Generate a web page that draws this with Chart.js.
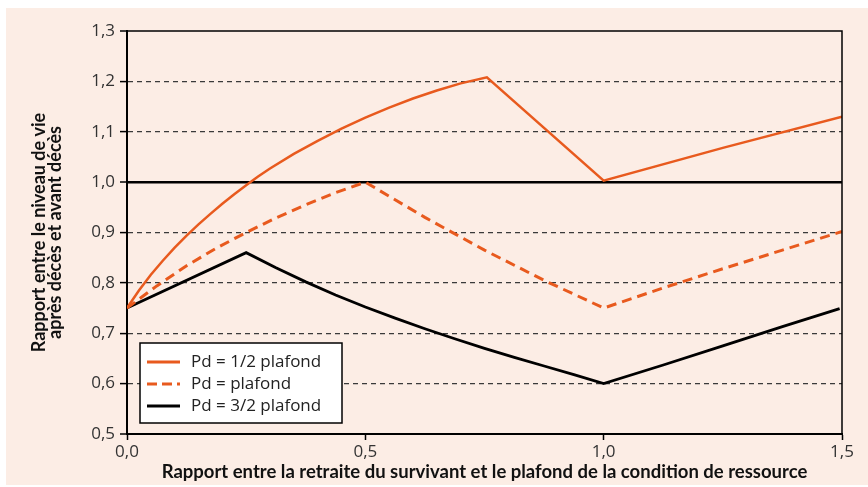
<!DOCTYPE html>
<html lang="fr">
<head>
<meta charset="utf-8">
<title>Niveau de vie après décès</title>
<script src="https://cdn.jsdelivr.net/npm/chart.js@4.4.1/dist/chart.umd.min.js"></script>
<style>
	html, body { margin: 0; padding: 0; background: #fff; }
	#wrap { position: relative; width: 868px; height: 487px; }
	#fond { position: absolute; left: 6px; top: 8px; right: 0; bottom: 2px; background: #fcede5; }
	canvas { position: absolute; left: 0; top: 0; }
</style>
</head>
<body>
<div id="wrap">
	<div id="fond"></div>
	<canvas id="ratioChart" width="868" height="487"></canvas>
</div>
<script>
// Rapport retraite du survivant / plafond (axe horizontal) et rapport de niveau de vie
const xDemi = [0, 0.025, 0.05, 0.075, 0.1, 0.125, 0.15, 0.175, 0.2, 0.225, 0.25, 0.275, 0.3, 0.35, 0.4, 0.45, 0.5, 0.55, 0.6, 0.65, 0.7, 0.755, 1.0, 1.25, 1.5];
const yDemi = [0.75, 0.785, 0.816, 0.844, 0.87, 0.894, 0.916, 0.937, 0.957, 0.976, 0.994, 1.011, 1.027, 1.056, 1.082, 1.106, 1.128, 1.148, 1.166, 1.182, 1.196, 1.208, 1.003, 1.068, 1.13];

const xPlafond = [0, 0.0625, 0.125, 0.1875, 0.25, 0.3125, 0.375, 0.4375, 0.5, 0.625, 0.75, 0.875, 1.0, 1.125, 1.25, 1.375, 1.5];
const yPlafond = [0.75, 0.794, 0.834, 0.869, 0.9, 0.929, 0.955, 0.979, 1.0, 0.93, 0.865, 0.805, 0.75, 0.79, 0.828, 0.865, 0.902];

const xTroisDemi = [0, 0.25, 0.3125, 0.375, 0.4375, 0.5, 0.5625, 0.625, 0.6875, 0.75, 0.8125, 0.875, 0.9375, 1.0, 1.125, 1.25, 1.375, 1.495];
const yTroisDemi = [0.75, 0.86, 0.83, 0.802, 0.776, 0.752, 0.73, 0.709, 0.689, 0.67, 0.652, 0.635, 0.618, 0.6, 0.637, 0.675, 0.713, 0.749];

const seriesLabels = ["Pd = 1/2 plafond", "Pd = plafond", "Pd = 3/2 plafond"];

const xTickValues = [0, 0.5, 1.0, 1.5];
const xTickLabels = ["0,0", "0,5", "1,0", "1,5"];
const yTickValues = [0.5, 0.6, 0.7, 0.8, 0.9, 1.0, 1.1, 1.2, 1.3];
const yTickLabels = ["0,5", "0,6", "0,7", "0,8", "0,9", "1,0", "1,1", "1,2", "1,3"];

const ORANGE = "#e85a1e";
const TEXT_FONT = "'Open Sans', sans-serif";
const TITLE_FONT = "Lato, 'Open Sans', sans-serif";

const toPoints = (xs, ys) => xs.map((x, i) => ({ x: x, y: ys[i] }));

// ligne de référence à 1,0 et cadre du graphique
const cadre = {
	id: "cadre",
	beforeDatasetsDraw(chart) {
		const { ctx, chartArea, scales } = chart;
		const y = scales.y.getPixelForValue(1.0);
		ctx.save();
		ctx.strokeStyle = "#000";
		ctx.lineWidth = 2.5;
		ctx.beginPath();
		ctx.moveTo(chartArea.left, y);
		ctx.lineTo(chartArea.right, y);
		ctx.stroke();
		ctx.restore();
	},
	afterDatasetsDraw(chart) {
		const { ctx, chartArea } = chart;
		ctx.save();
		ctx.strokeStyle = "#000";
		ctx.lineWidth = 1.5;
		ctx.beginPath();
		ctx.moveTo(chartArea.left, chartArea.top);
		ctx.lineTo(chartArea.right, chartArea.top);
		ctx.lineTo(chartArea.right, chartArea.bottom);
		ctx.stroke();
		ctx.restore();
	},
};

// légende encadrée en bas à gauche de la zone de tracé
const legendeBas = {
	id: "legendeBas",
	afterDraw(chart) {
		const { ctx, chartArea } = chart;
		const x0 = chartArea.left + 13;
		const y0 = chartArea.bottom - 91;
		ctx.save();
		ctx.fillStyle = "#fff";
		ctx.fillRect(x0, y0, 202, 80);
		ctx.strokeStyle = "#000";
		ctx.lineWidth = 1.5;
		ctx.strokeRect(x0, y0, 202, 80);
		chart.data.datasets.forEach((ds, i) => {
			const y = y0 + 19 + i * 22;
			ctx.beginPath();
			ctx.setLineDash(ds.borderDash ? [10, 5] : []);
			ctx.strokeStyle = ds.borderColor;
			ctx.lineWidth = 3;
			ctx.moveTo(x0 + 7, y);
			ctx.lineTo(x0 + 40, y);
			ctx.stroke();
			ctx.setLineDash([]);
			ctx.fillStyle = "#222";
			ctx.font = "17px " + TEXT_FONT;
			ctx.textBaseline = "middle";
			ctx.fillText(ds.label, x0 + 51, y);
		});
		ctx.restore();
	},
};

const ctx = document.getElementById("ratioChart").getContext("2d");
new Chart(ctx, {
	type: "line",
	data: {
		datasets: [
			{
				label: seriesLabels[0],
				data: toPoints(xDemi, yDemi),
				borderColor: ORANGE,
				borderWidth: 2.5,
				pointRadius: 0,
				tension: 0,
			},
			{
				label: seriesLabels[1],
				data: toPoints(xPlafond, yPlafond),
				borderColor: ORANGE,
				borderWidth: 3,
				borderDash: [10, 6],
				pointRadius: 0,
				tension: 0,
			},
			{
				label: seriesLabels[2],
				data: toPoints(xTroisDemi, yTroisDemi),
				borderColor: "#000",
				borderWidth: 2.8,
				pointRadius: 0,
				tension: 0,
			},
		],
	},
	options: {
		responsive: false,
		animation: false,
		layout: { padding: { left: 24, top: 31, right: 26, bottom: 0 } },
		plugins: {
			legend: { display: false },
			tooltip: { enabled: false },
		},
		scales: {
			x: {
				type: "linear",
				min: 0,
				max: 1.5,
				afterBuildTicks: (s) => { s.ticks = xTickValues.map((v) => ({ value: v })); },
				afterFit: (s) => { s.height = 53; },
				grid: { drawOnChartArea: false, drawTicks: true, tickLength: 6, tickColor: "#000", tickWidth: 1.5 },
				border: { display: true, color: "#000", width: 2 },
				ticks: {
					padding: 2,
					maxRotation: 0,
					color: "#333",
					font: { family: TEXT_FONT, size: 17 },
					callback: (v, i) => xTickLabels[i],
				},
				title: {
					display: true,
					text: "Rapport entre la retraite du survivant et le plafond de la condition de ressource",
					color: "#111",
					font: { family: TITLE_FONT, size: 18.5, weight: "bold", lineHeight: 0.87 },
					padding: { top: 0, bottom: 7 },
				},
			},
			y: {
				min: 0.5,
				max: 1.3,
				afterBuildTicks: (s) => { s.ticks = yTickValues.map((v) => ({ value: v })); },
				afterFit: (s) => { s.width = 103; },
				grid: {
					color: "#3a3a3a",
					lineWidth: (c) => {
						const v = c.tick ? Math.round(c.tick.value * 10) : 0;
						return v === 5 || v === 10 || v === 13 ? 0 : 1.2;
					},
					drawTicks: true,
					tickLength: 7,
					tickColor: "#000",
					tickWidth: 1.5,
				},
				border: { display: true, color: "#000", width: 2, dash: [5, 4] },
				ticks: {
					padding: 5,
					color: "#333",
					font: { family: TEXT_FONT, size: 17 },
					callback: (v, i) => yTickLabels[i],
				},
				title: {
					display: true,
					text: ["Rapport entre le niveau de vie", "après décès et avant décès"],
					color: "#111",
					font: { family: TITLE_FONT, size: 18, weight: "bold", lineHeight: 0.9 },
					padding: { top: 7, bottom: 0 },
				},
			},
		},
	},
	plugins: [cadre, legendeBas],
});
</script>
</body>
</html>
